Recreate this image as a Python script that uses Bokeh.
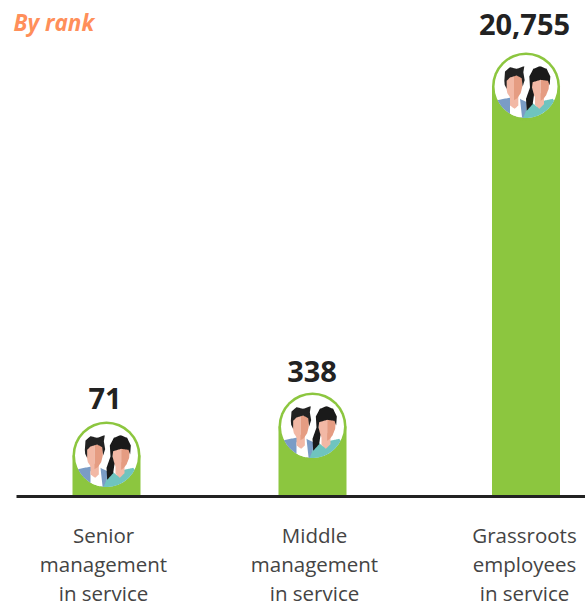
from bokeh.plotting import figure
from bokeh.models import Range1d, ColumnDataSource
from bokeh.core.properties import value
from bokeh.embed import file_html
from bokeh.resources import INLINE
import numpy as np

categories = ["Senior\nmanagement\nin service", "Middle\nmanagement\nin service", "Grassroots\nemployees\nin service"]
value_labels = ["71", "338", "20,755"]
values = [71, 338, 20755]
drawn_heights = [75, 104, 444]   # the picture's bars are pictograms, not to scale
slots = [106, 312, 525.5]
name_slots = [103, 314, 524]
value_slots = [104.5, 311.5, 524]
label_gaps = [23, 21, 28]

GREEN = "#8cc63f"
R = 34
W, H = 585, 603
TOP = 496

p = figure(width=W, height=H, output_backend="svg", toolbar_location=None,
           x_range=Range1d(0, W), y_range=Range1d(TOP - H, TOP),
           min_border_left=0, min_border_right=0, min_border_top=0, min_border_bottom=0,
           outline_line_color=None, background_fill_color="white", border_fill_color="white")
p.grid.visible = False
p.axis.visible = False

heights = np.array(drawn_heights, float)
centers_y = heights - R
p.vbar(x=slots, top=centers_y, bottom=0, width=2 * R, fill_color=GREEN, line_color=None)
p.segment(x0=[16], y0=[0], x1=[W], y1=[0], line_color="#222222", line_width=3)
p.circle(x=slots, y=centers_y, radius=R, fill_color=GREEN, line_color=None)
p.circle(x=slots, y=centers_y, radius=R - 2.5, fill_color="white", line_color=None)

# Figure icon: outlines in zoom-pixel space of the reference (3x), circle centre at (138, 225)
ICON = [
    ("#7a9cc6", [(52,266),(92,258),(92,330),(138,330),(140,272),(120,262),(128,335),(40,335)]),
    ("#ffffff", [(90,272),(118,272),(118,330),(90,330)]),
    ("#f2b8a5", [(90,250),(115,250),(115,282),(104,292),(90,282)]),
    ("#f2b8a5", [(78,195),(102,190),(102,266),(92,260),(82,245),(78,225)]),
    ("#e59c82", [(102,190),(127,195),(127,225),(122,245),(112,260),(102,266)]),
    ("#222222", [(73,208),(75,180),(90,167),(110,172),(133,164),(130,182),(134,206),(128,225),(125,200),(110,192),(90,198),(80,208),(80,232),(74,220)]),
    ("#6fc4bf", [(130,318),(150,268),(170,285),(190,268),(218,262),(240,290),(230,335),(125,335)]),
    ("#f2b8a5", [(165,245),(192,245),(192,278),(178,292),(165,280)]),
    ("#f2b8a5", [(156,205),(182,200),(182,268),(170,262),(160,250),(156,230)]),
    ("#e59c82", [(182,200),(208,205),(206,232),(198,252),(190,262),(182,268)]),
    ("#1a1a1a", [(150,228),(148,195),(160,172),(180,164),(200,172),(211,195),(209,222),(204,208),(182,205),(158,212),(156,228),(162,250),(158,278),(140,298),(138,262)]),
]

def project(poly, radius):
    """Subdivide the outline and pull anything past the circle back onto it."""
    pts = np.array(poly, float)
    pts = np.column_stack([(pts[:, 0] - 138) / 3, (225 - pts[:, 1]) / 3])
    out = []
    for a, b in zip(pts, np.roll(pts, -1, axis=0)):
        for t in np.linspace(0, 1, 12, endpoint=False):
            out.append(a + (b - a) * t)
    out = np.array(out)
    r = np.hypot(out[:, 0], out[:, 1])
    k = np.minimum(1, radius / np.maximum(r, 1e-6))
    return out * k[:, None]

xs, ys, cols = [], [], []
for cx, cy in zip(slots, centers_y):
    for col, poly in ICON:
        q = project(poly, R - 2.5)
        xs.append((q[:, 0] + cx).tolist())
        ys.append((q[:, 1] + cy).tolist())
        cols.append(col)
p.patches(xs="xs", ys="ys", fill_color="cols", line_color=None,
          source=ColumnDataSource(dict(xs=xs, ys=ys, cols=cols)))

p.text(x=value_slots, y=heights + np.array(label_gaps), text=value_labels, text_font=value("Open Sans"),
       text_font_size="29px", text_font_style="bold", text_color="#222222",
       text_align="center", text_baseline="alphabetic")

p.text(x=name_slots, y=[-24] * 3, text=categories, text_font=value("Open Sans"), text_font_size="20.5px",
       text_color="#444444", text_align="center", text_baseline="top", text_line_height=1.05)

p.text(x=[13], y=[474], text=["By rank"], text_font=value("Open Sans"), text_font_size="22.5px",
       text_font_style="bold italic", text_color="#ff8f5a", text_align="left", text_baseline="alphabetic")

open("out.html", "w").write(file_html(p, INLINE))
